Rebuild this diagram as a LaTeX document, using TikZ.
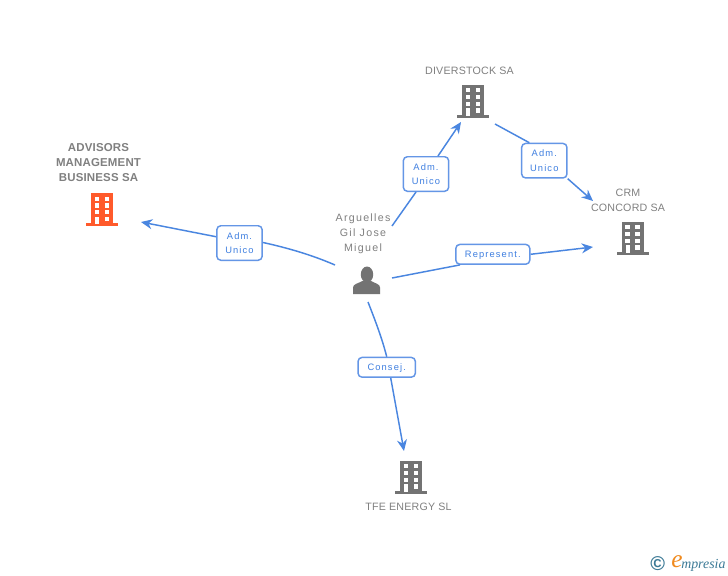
\documentclass[tikz,border=0pt]{standalone}
\usepackage{fontspec}
\setmainfont{Liberation Sans}
\newfontfamily\lblfont[LetterSpace=12]{Liberation Sans}
\newfontfamily\namefont[LetterSpace=2]{Liberation Sans}
\newfontfamily\personfont[LetterSpace=12]{Liberation Sans}
\newfontfamily\boldnamefont[LetterSpace=1.5]{Liberation Sans Bold}
\newfontfamily\logofont{Liberation Serif Italic}
\usetikzlibrary{arrows.meta}
\definecolor{edgeblue}{HTML}{4A86E0}
\definecolor{boxblue}{HTML}{6496E6}
\definecolor{textblue}{HTML}{3F7FE0}
\definecolor{greytxt}{HTML}{808080}
\definecolor{iconGrey}{HTML}{737373}
\definecolor{iconOrange}{HTML}{FF5A2B}
\definecolor{logoBlue}{HTML}{3C7A96}
\definecolor{logoOrange}{HTML}{F08A1E}
\newcommand{\lowtxt}[1]{\raisebox{-0.7pt}{#1}}
\newcommand{\midtxt}[1]{\smash{\raisebox{-2.5pt}{#1}}}
\tikzset{
  conn/.style={edgeblue,line width=1.1pt,-{Stealth[length=8.5pt,width=7.5pt]}},
  connplain/.style={edgeblue,line width=1.1pt},
  rolebox/.style={draw=boxblue,line width=1.1pt,rounded corners=3pt,fill=white,
     text=textblue,font=\lblfont\fontsize{7pt}{11pt}\selectfont,align=center,
     inner sep=0pt,minimum height=#1},
  namelbl/.style={text=greytxt,font=\namefont\fontsize{8pt}{11.25pt}\selectfont,align=center,inner sep=0pt},
  personlbl/.style={text=greytxt,font=\personfont\fontsize{8pt}{11.25pt}\selectfont,align=center,inner sep=0pt},
  boldlbl/.style={text=greytxt,font=\boldnamefont\fontsize{8.6pt}{11.25pt}\selectfont,align=center,inner sep=0pt},
  building/.pic={
    \fill[pic actions] (-16,-2.6) rectangle (16,0);
    \fill[pic actions] (-11,-33) rectangle (11,-2);
    \foreach \yy in {-29.3,-22.7,-16}{
      \fill[white] (-7.3,\yy) rectangle (-3,\yy+4.2);
      \fill[white] (2.7,\yy) rectangle (7,\yy+4.2);
    }
    \fill[white] (-7,-9.3) rectangle (-3,-1.6);
    \fill[white] (2.7,-9.3) rectangle (7,-5);
  }
}
\begin{document}
\begin{tikzpicture}[x=0.75pt,y=-0.75pt]
\useasboundingbox[fill=white] (0,0) rectangle (728,575);

% icons
\pic[fill=iconOrange] at (102.2,226) {building};
\pic[fill=iconGrey] at (473.3,117.5) {building};
\pic[fill=iconGrey] at (632.5,254.5) {building};
\pic[fill=iconGrey] at (411.3,493.5) {building};

% person
\fill[iconGrey] (353,294) -- (353,287.5) .. controls (353,284) and (358,283.5) .. (362.5,281)
  -- (371,281) .. controls (375.5,283.5) and (380,284) .. (380,287.5) -- (380,294) -- cycle;
\fill[iconGrey] (367,274.5) ellipse (6.2 and 8);

% named ends
\coordinate (pA) at (335,265);
\coordinate (tA) at (141,222);
\coordinate (pD) at (392,226);
\coordinate (tD) at (461,122);
\coordinate (dC) at (495,124);
\coordinate (tC) at (593,201);
\coordinate (pR) at (392,278);
\coordinate (tR) at (593,247);
\coordinate (pT) at (368,302);
\coordinate (tT) at (404,451);

% labels
\node[rolebox=25.9pt] (lA) at (239.5,243) {\makebox[34pt]{\lowtxt{Adm.}}\\\lowtxt{Unico}};
\node[rolebox=25.9pt] (lD) at (426,174) {\makebox[34pt]{\lowtxt{Adm.}}\\\lowtxt{Unico}};
\node[rolebox=25.9pt] (lC) at (544.3,160.7) {\makebox[34pt]{\lowtxt{Adm.}}\\\lowtxt{Unico}};
\node[rolebox=14.8pt,minimum width=55.5pt] (lR) at (492.8,254.3) {\midtxt{Represent.}};
\node[rolebox=14.8pt,minimum width=43pt] (lT) at (386.7,367.3) {\midtxt{Consej.}};

% connectors
\draw[connplain] (pA) .. controls (312,255) and (288,248) .. ([yshift=0.4pt]lA.east);
\draw[conn] ([yshift=4.7pt]lA.west) -- (tA);
\draw[connplain] (pD) -- ([xshift=-7.5pt]lD.south);
\draw[conn] ([xshift=9pt]lD.north) -- (tD);
\draw[connplain] (dC) -- ([xshift=-11.25pt]lC.north);
\draw[conn] (lC.south east) -- (tC);
\draw[connplain] (pR) -- ([xshift=-24.6pt]lR.south);
\draw[conn] (lR.east) -- (tR);
\draw[connplain] (pT) .. controls (375,320) and (382,338) .. (lT.north);
\draw[conn] ([xshift=3pt]lT.south) -- (tT);

% names
\node[boldlbl] (nA) at (98.5,163) {ADVISORS\\MANAGEMENT\\BUSINESS SA};
\node[namelbl] (nD) at (469.5,71) {DIVERSTOCK SA};
\node[namelbl] (nC) at (628,200.5) {CRM\\CONCORD SA};
\node[namelbl] (nT) at (408.5,507) {TFE ENERGY SL};
\node[personlbl] (nP) at (363,234) {Arguelles\\Gil Jose\\Miguel};

% logo
\node[inner sep=0pt,text=logoBlue,font=\bfseries\fontsize{15pt}{15pt}\selectfont] (logoC) at (657.7,564) {©};
\node[inner sep=0pt,text=logoOrange,font=\logofont\fontsize{19pt}{19pt}\selectfont] (logoE) at (677,562) {e};
\node[inner sep=0pt,text=logoBlue,font=\logofont\fontsize{10.4pt}{10pt}\selectfont,anchor=west] (logoM) at (681,565) {mpresia};
\end{tikzpicture}
\end{document}
